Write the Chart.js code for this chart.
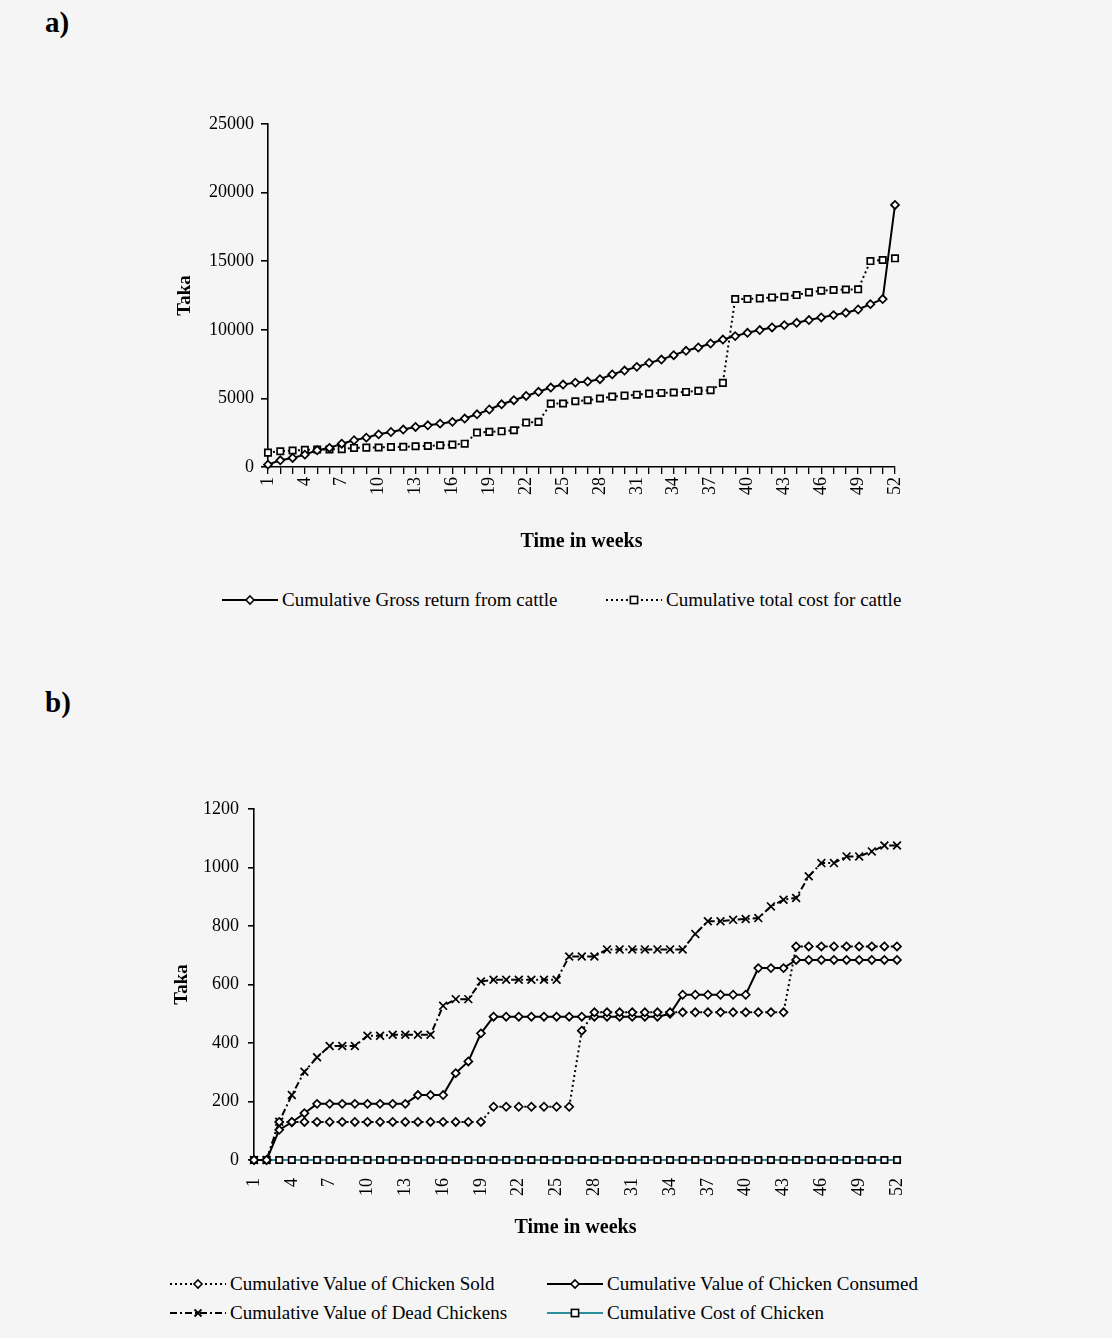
<!DOCTYPE html>
<html><head><meta charset="utf-8">
<script src="https://cdn.jsdelivr.net/npm/chart.js@4.4.0/dist/chart.umd.min.js"></script>
<style>
html,body{margin:0;padding:0;}
body{background:#f5f5f5;width:1112px;height:1338px;position:relative;overflow:hidden;font-family:"Liberation Serif","Times New Roman",serif;color:#000;}
.wrap{position:absolute;left:0;width:1112px;}
#wa{top:0;height:570px;}
#wb{top:640px;height:610px;}
.lbl{position:absolute;font-weight:bold;font-size:29px;line-height:29px;}
.leg{position:absolute;display:flex;align-items:center;font-size:19px;line-height:20px;white-space:nowrap;height:20px;}
.leg svg{margin-right:4px;}
</style></head>
<body>
<div class="lbl" style="left:45px;top:8px;">a)</div>
<div class="lbl" style="left:45px;top:688px;">b)</div>
<div class="wrap" id="wa"><canvas id="ca"></canvas></div>
<div class="wrap" id="wb"><canvas id="cb"></canvas></div>
<div id="legends"></div>
<script>
// ---------- data ----------
const weeks = Array.from({length:52},(_,i)=>String(i+1));
const yTicksA = [0,5000,10000,15000,20000,25000];
const yTicksB = [0,200,400,600,800,1000,1200];

const grossReturnCattle = [170,490,660,900,1220,1390,1700,1950,2140,2380,
 2550,2730,2920,3040,3160,3290,3530,3840,4190,4570,
 4870,5180,5480,5790,6010,6150,6230,6400,6750,7030,
 7300,7590,7830,8150,8470,8710,9000,9290,9540,9780,
 9980,10170,10340,10510,10710,10900,11070,11240,11480,11870,
 12240,19100];
const totalCostCattle = [1050,1150,1200,1250,1270,1280,1300,1390,1410,1420,
 1460,1470,1510,1530,1580,1630,1700,2510,2560,2600,
 2680,3240,3290,4620,4630,4790,4870,4990,5130,5200,
 5270,5350,5400,5430,5470,5550,5600,6130,12240,12240,
 12290,12360,12410,12530,12730,12850,12900,12940,12950,15010,
 15090,15210];

const chickenSold = [0,0,130,130,130,130,130,130,130,130,
 130,130,130,130,130,130,130,130,130,182,
 182,182,182,182,182,182,442,505,505,505,
 505,505,505,505,505,505,505,505,505,505,
 505,505,505,730,730,730,730,730,730,730,
 730,730];
const chickenConsumed = [0,0,103,129,160,192,192,192,192,192,
 192,192,192,222,222,222,297,337,433,490,
 490,490,490,490,490,490,490,490,490,490,
 490,490,490,500,565,565,565,565,565,565,
 656,656,656,684,684,684,684,684,684,684,
 684,684];
const deadChickens = [0,0,131,222,302,351,390,390,390,425,
 425,428,428,428,428,527,550,550,610,616,
 616,616,616,616,616,696,696,696,720,720,
 720,720,720,720,720,773,816,816,821,824,
 827,867,890,896,970,1015,1015,1038,1038,1055,
 1075,1075];
const costChicken = new Array(52).fill(0);

const namesA = ['Cumulative Gross return from cattle','Cumulative total cost for cattle'];
const namesB = ['Cumulative Value of Chicken Sold','Cumulative Value of Chicken Consumed','Cumulative Value of Dead Chickens','Cumulative Cost of Chicken'];

// ---------- styles ----------
const FONT = "'Liberation Serif','Times New Roman',serif";
const TEAL = '#2f8f9c';
const styles = {
  solidDiamond: {line:'#000', dash:[], point:'rectRot', r:4},
  dotSquare:   {line:'#000', dash:[2,3], point:'rect', r:4.5},
  dotDiamond:  {line:'#000', dash:[2,3], point:'rectRot', r:4},
  dashDotX:    {line:'#000', dash:[7,3,2,3], point:'crossRot', r:5.5},
  tealSquare:  {line:TEAL, dash:[], point:'rect', r:4.5}
};
function ds(label, data, st){
  return {label, data, borderColor:st.line, borderWidth:2, borderDash:st.dash,
    pointStyle:st.point, pointRadius:st.r, pointHoverRadius:st.r,
    pointBackgroundColor:'#fff', pointBorderColor:'#000', pointBorderWidth:1.7,
    fill:false, tension:0, clip:false};
}

function xAxis(h, tl, pad){
  return {type:'category', offset:false,
    ticks:{autoSkip:false, minRotation:90, maxRotation:90, padding:pad, color:'#000',
      font:{family:FONT,size:18},
      callback:function(v,i){return i%3===0 ? this.getLabelForValue(v) : '';}},
    grid: tl>0 ? {display:true, drawOnChartArea:false, drawTicks:true, tickLength:tl, color:'#000', lineWidth:1.3} : {display:false},
    border:{display:true,color:'#000',width:1.6},
    title:{display:true, text:'Time in weeks', color:'#000', padding:{top:0,bottom:0}, font:{family:FONT,size:20,weight:'bold'}},
    afterFit:s=>{s.height=h;}};
}
function yAxis(w, ticks, tl, pad){
  return {type:'linear', min:ticks[0], max:ticks[ticks.length-1],
    afterBuildTicks:s=>{s.ticks=ticks.map(v=>({value:v}));},
    ticks:{padding:pad, color:'#000', font:{family:FONT,size:18}, callback:v=>String(v)},
    grid:{display:true, drawOnChartArea:false, drawTicks:true, tickLength:tl, color:'#000', lineWidth:1.6},
    border:{display:true,color:'#000',width:1.6},
    title:{display:true, text:'Taka', color:'#000', padding:{top:0,bottom:0}, font:{family:FONT,size:19,weight:'bold'}},
    afterFit:s=>{s.width=w;}};
}
const common = {responsive:true, maintainAspectRatio:false, animation:false, devicePixelRatio:1,
  plugins:{legend:{display:false}, tooltip:{enabled:false}}, events:[]};

new Chart(document.getElementById('ca'), {
  type:'line',
  data:{labels:weeks, datasets:[
    ds(namesA[0], grossReturnCattle, styles.solidDiamond),
    ds(namesA[1], totalCostCattle, styles.dotSquare)
  ]},
  options:Object.assign({}, common, {
    layout:{padding:{left:174, top:124, right:217, bottom:16}},
    scales:{x:xAxis(87,7,3), y:yAxis(94, yTicksA, 7, 7)}
  })
});

new Chart(document.getElementById('cb'), {
  type:'line',
  data:{labels:weeks, datasets:[
    ds(namesB[0], chickenSold, styles.dotDiamond),
    ds(namesB[1], chickenConsumed, styles.solidDiamond),
    ds(namesB[2], deadChickens, styles.dashDotX),
    ds(namesB[3], costChicken, styles.tealSquare)
  ]},
  options:Object.assign({}, common, {
    layout:{padding:{left:171, top:169, right:215, bottom:10}},
    scales:{x:xAxis(80,0,10), y:yAxis(83, yTicksB, 6, 9)}
  })
});

// ---------- legends (HTML) ----------
function icon(st){
  const w=56,h=16,c=h/2,m=w/2,r=st.r;
  let mk='';
  if(st.point==='rectRot') mk=`<polygon points="${m},${c-r} ${m+r},${c} ${m},${c+r} ${m-r},${c}" fill="#fff" stroke="#000" stroke-width="1.6"/>`;
  else if(st.point==='rect') mk=`<rect x="${m-r*0.8}" y="${c-r*0.8}" width="${r*1.6}" height="${r*1.6}" fill="#fff" stroke="#000" stroke-width="1.6"/>`;
  else mk=`<path d="M${m-3.5},${c-3.5}L${m+3.5},${c+3.5}M${m+3.5},${c-3.5}L${m-3.5},${c+3.5}" stroke="#000" stroke-width="1.8"/>`;
  const dash = st.dash.length? `stroke-dasharray="${st.dash.join(',')}"` : '';
  return `<svg width="${w}" height="${h}"><line x1="0" y1="${c}" x2="${w}" y2="${c}" stroke="${st.line}" stroke-width="2" ${dash}/>${mk}</svg>`;
}
const legItems = [
  {x:222, y:600, st:styles.solidDiamond, t:namesA[0]},
  {x:606, y:600, st:styles.dotSquare, t:namesA[1]},
  {x:170, y:1284, st:styles.dotDiamond, t:namesB[0]},
  {x:547, y:1284, st:styles.solidDiamond, t:namesB[1]},
  {x:170, y:1313, st:styles.dashDotX, t:namesB[2]},
  {x:547, y:1313, st:styles.tealSquare, t:namesB[3]}
];
const L = document.getElementById('legends');
legItems.forEach(it=>{
  const d=document.createElement('div');
  d.className='leg';
  d.style.left=it.x+'px'; d.style.top=(it.y-10)+'px';
  d.innerHTML=icon(it.st)+`<span>${it.t}</span>`;
  L.appendChild(d);
});
</script>
</body></html>
